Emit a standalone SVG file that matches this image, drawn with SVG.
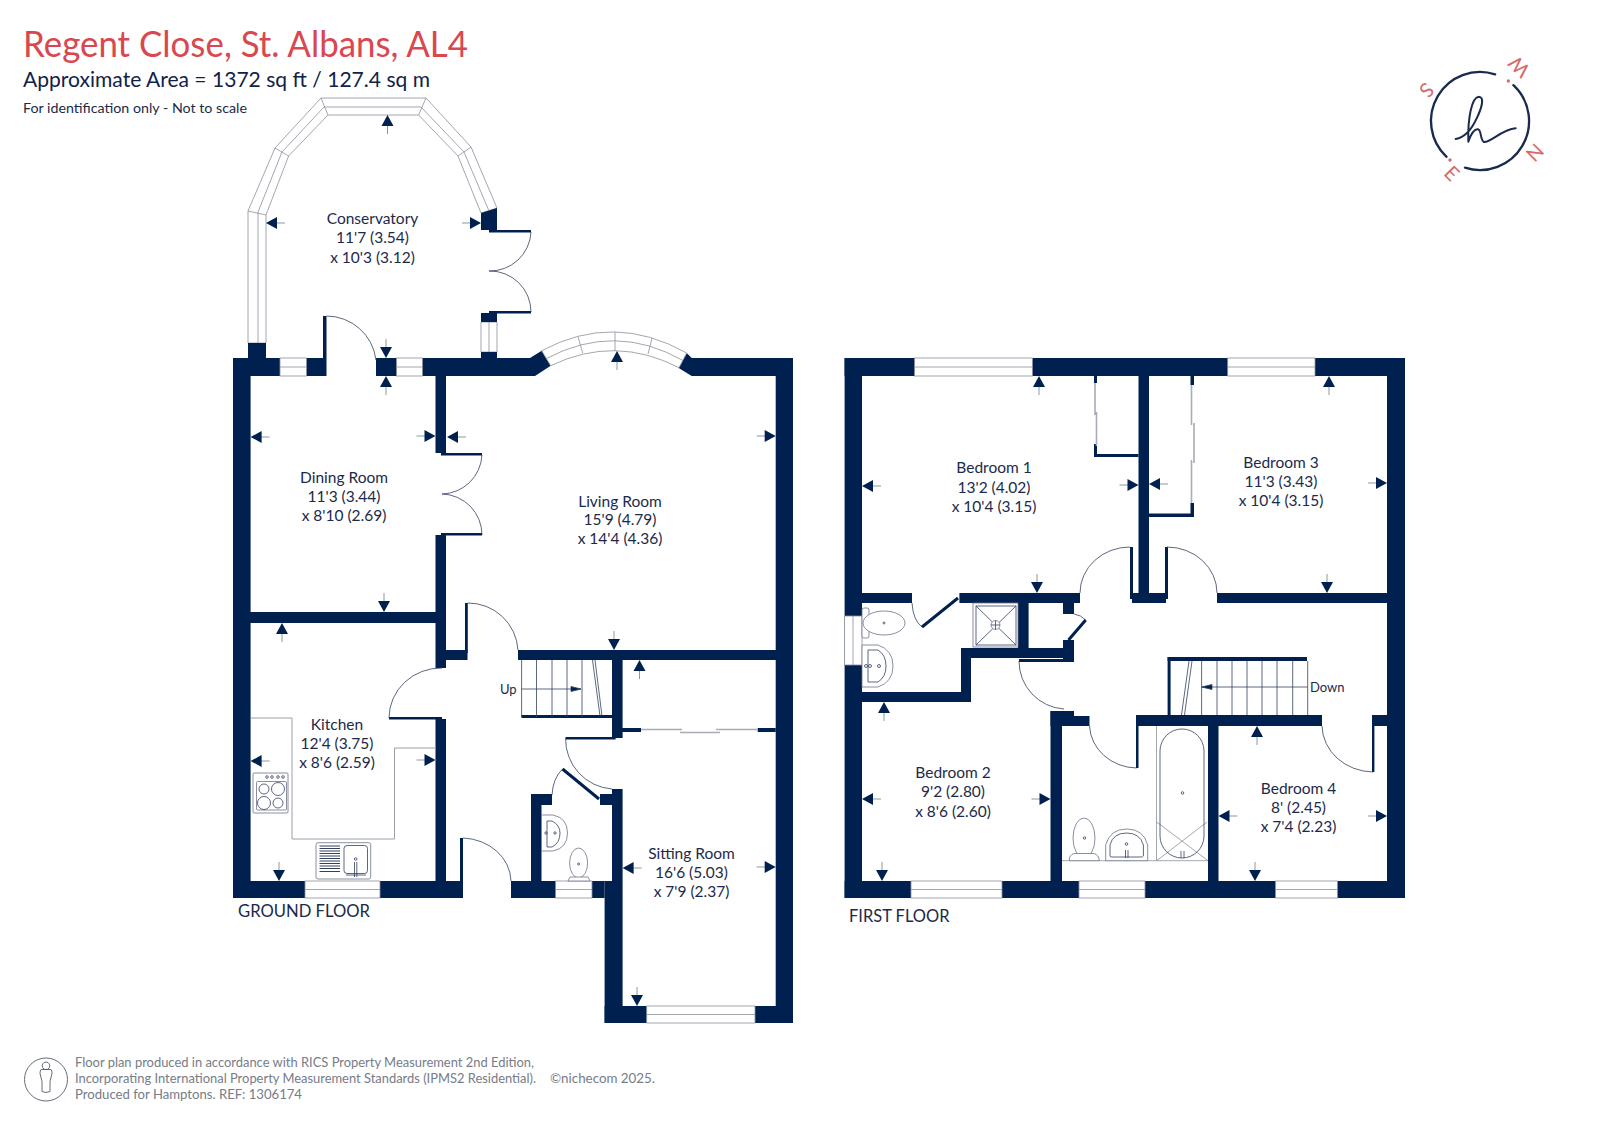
<svg xmlns="http://www.w3.org/2000/svg" width="1600" height="1131" viewBox="0 0 1600 1131">
<style>
text{font-family:"Lato","Open Sans","Liberation Sans",sans-serif;fill:#1c2a4a}
.r{font-size:15.5px;text-anchor:middle}
.f{font-size:17.5px}
.ft{font-size:12.6px;fill:#767c88}
.wall{fill:#00214f}
.win{fill:#fff;stroke:#8a909c;stroke-width:.8}
.thin{fill:none;stroke:#33415f;stroke-width:.8}
.gr{fill:none;stroke:#8a909c;stroke-width:.8}
.wk{fill:none;stroke:#9aa0aa;stroke-width:1}
.gl{fill:none;stroke:#a8adb5;stroke-width:1.6}
.th{fill:none;stroke:#00214f;stroke-width:3}
.fx{fill:#fff;stroke:#6c7488;stroke-width:.8}
.c{fill:none;stroke:#1a2a4f;stroke-width:7;stroke-linecap:round}
.cl{font-size:60px;fill:#d9686c;text-anchor:middle}
</style>
<defs>
<g id="a"><path d="M-19 0H-10" stroke="#8f96a3" stroke-width="1" fill="none"/><path d="M-11 -6L0 0L-11 6Z" fill="#00214f"/></g>
</defs>
<rect width="1600" height="1131" fill="#fff"/>

<g id="heading">
<text x="23" y="57" font-size="37" style="fill:#d9474f" textLength="445" lengthAdjust="spacingAndGlyphs">Regent Close, St. Albans, AL4</text>
<text x="23" y="87" font-size="21" style="fill:#10224a" textLength="407" lengthAdjust="spacingAndGlyphs">Approximate Area = 1372 sq ft / 127.4 sq m</text>
<text x="23" y="113" font-size="14" textLength="224" lengthAdjust="spacingAndGlyphs">For identification only - Not to scale</text>
</g>

<g id="compass" transform="translate(1400 40) scale(.3333)">
<path class="c" d="M285.400 103.200A147 147 0 0 0 139.700 350.500"/>
<path class="c" d="M340.300 135.500A147 147 0 0 1 195 383"/>
<path fill="none" stroke="#1a2a4f" stroke-width="6" stroke-linecap="round" stroke-linejoin="round" d="M167 297C195 292 215 268 230 235C245 205 255 170 236 170C215 172 203 235 205 305C212 285 222 265 235 268C245 272 240 300 252 306C270 310 305 268 347 265"/>
<circle cx="325" cy="123" r="5" fill="#d9686c"/><circle cx="150" cy="360" r="5" fill="#d9686c"/>
<text class="cl" transform="translate(80 150) rotate(135) translate(0 21)">S</text>
<text class="cl" transform="translate(358 80) rotate(225) translate(0 21)">W</text>
<text class="cl" transform="translate(405 338) rotate(-45) translate(0 21)">N</text>
<text class="cl" transform="translate(155 400) rotate(45) translate(0 21)">E</text>
</g>

<g id="ground-floor">
<g id="conservatory-glazing">
<path class="win" d="M248 343V211L275 148L321 98H426L471 147L497 208L481 213L458 156L418.600 115H328L288.600 156L266 215V343Z"/>
<path class="gr" d="M258 343V212L282 152L324 107H421L464 152L488.600 210M248 211L266 215M275 148L288.600 156M321 98L328 115M426 98L418.600 115M471 147L458 156"/>
<path class="win" d="M481 322H497V352H481Z"/><path class="gr" d="M489 322V352"/>
</g>
<g id="ground-walls" class="wall">
<rect x="233" y="358" width="17.600" height="540"/>
<rect x="233" y="358" width="91.500" height="18"/>
<rect x="248" y="343" width="18" height="16"/>
<rect x="323" y="316" width="3.500" height="60"/>
<rect x="376" y="358" width="156" height="18"/>
<path d="M530 358L541.700 350.700L550.700 365.700L535 376H525V358Z"/>
<path d="M678.300 367.700L686.700 353L691.700 358H793V376H691.700Z"/>
<rect x="775.700" y="358" width="17.300" height="665"/>
<rect x="481" y="352" width="16" height="8"/>
<path d="M481 213L497 208V230H531V232.500H489V230H481Z"/>
<path d="M481 313H489V311H531V313.500H497V322H481Z"/>
<rect x="435.500" y="376" width="10.500" height="77"/>
<rect x="441" y="453" width="41" height="2.500"/>
<rect x="441" y="533" width="41" height="2.500"/>
<rect x="435.500" y="535" width="10.500" height="133"/>
<rect x="446" y="650" width="21.500" height="10"/>
<rect x="465" y="603" width="2.800" height="50"/>
<rect x="518" y="650" width="258" height="10"/>
<rect x="250" y="612" width="186" height="11"/>
<rect x="521.500" y="715" width="91" height="3"/>
<rect x="612" y="650" width="10.600" height="88"/>
<rect x="565.600" y="737" width="50" height="2.500"/>
<rect x="622" y="728" width="19" height="4"/>
<rect x="757.700" y="728" width="18" height="4"/>
<rect x="389" y="717" width="53" height="2.500"/>
<rect x="435.500" y="719" width="10.500" height="163"/>
<rect x="233" y="881" width="227" height="17"/>
<rect x="460" y="838" width="3" height="60"/>
<rect x="511" y="881" width="93.600" height="17"/>
<rect x="604.600" y="881" width="18" height="142"/>
<rect x="612" y="789" width="10.600" height="92"/>
<rect x="531" y="794" width="10.500" height="87"/>
<rect x="531" y="794" width="21" height="11"/>
<rect x="600" y="794" width="12" height="11"/>
<rect x="604.600" y="1006" width="188.400" height="17"/>
</g>
<g id="ground-windows">
<rect class="win" x="280" y="358" width="26.500" height="18"/><path class="gr" d="M280 367H306.500"/>
<rect class="win" x="396.500" y="358" width="26" height="18"/><path class="gr" d="M396.500 367H422.500"/>
<rect class="win" x="305" y="881" width="75" height="17"/><path class="gr" d="M305 889.500H380"/>
<rect class="win" x="555.600" y="881" width="36.400" height="17"/><path class="gr" d="M555.600 889.500H592"/>
<rect class="win" x="646.700" y="1006" width="108.300" height="17"/><path class="gr" d="M646.700 1014.500H755"/>
<path class="win" d="M541.700 350.700Q614 312 686.700 353L679 367.700Q615 334.700 550.700 365.700Z"/>
<path class="gr" d="M546.500 358.500Q615 322 683 360.500M578 336.700L582.700 353M615 332V351M652 338L648 354"/>
</g>
<g id="ground-doors" class="thin">
<path d="M326.500 316A50 50 0 0 1 376 360"/>
<path d="M482 455A41 41 0 0 1 442 494A41 41 0 0 1 482 535"/>
<path d="M531 232A41 41 0 0 1 489 271A41 41 0 0 1 531 312"/>
<path d="M467.500 603A50 50 0 0 1 518 650"/>
<path d="M442 668A52 50 0 0 0 389 718"/>
<path d="M463 838A50 44 0 0 1 511 881"/>
<path d="M565.600 738A50 50 0 0 0 612 789"/>
<path d="M552 795Q553 778 562.500 769"/>
</g>
<path class="th" d="M562.500 769L599 799"/>
<g id="ground-stairs" class="thin">
<path d="M521.600 660V717M536.500 660V717M552 660V717M567 660V717M582 660V717M592.500 660L600 716M595 660L602 716M521.600 689H581"/>
<path d="M581 689L571 686.500V691.500Z" style="fill:#00214f"/>
</g>
<g id="kitchen-fittings">
<path class="wk" d="M251 718H292V839H394.500V748H436"/>
<rect class="fx" x="253" y="773" width="35" height="40" rx="1"/>
<rect class="fx" x="256.500" y="781.500" width="30" height="28.500" rx="1"/>
<circle class="thin" cx="264" cy="789" r="5"/><circle class="thin" cx="278" cy="789" r="6.500"/>
<circle class="thin" cx="264" cy="803" r="6.500"/><circle class="thin" cx="278" cy="803" r="5"/>
<circle class="thin" cx="267" cy="777" r="1.300"/><circle class="thin" cx="272" cy="777" r="1.300"/><circle class="thin" cx="278" cy="777" r="1.300"/><circle class="thin" cx="283" cy="777" r="1.300"/>
<rect class="fx" x="316" y="842.700" width="54.700" height="36.300" rx="2"/>
<path d="M319.500 846H340M319.500 848.500H340M319.500 851H340M319.500 853.500H340M319.500 856H340M319.500 858.500H340M319.500 861H340M319.500 863.500H340M319.500 866H340M319.500 868.500H340M319.500 871.500H340" fill="none" stroke="#33415f" stroke-width="1"/>
<rect class="thin" x="344" y="845.500" width="23.500" height="28" rx="3"/>
<path class="thin" d="M354.500 862V877M356.800 862V877M346 875H366"/>
<circle class="thin" cx="355.700" cy="859" r="1.300"/>
</g>
<g id="wc-fittings">
<path class="fx" d="M541.500 815H553Q567.500 818 567.500 833Q567.500 848 553 851H541.500Z"/>
<path class="thin" d="M547 821H552Q560 825 560 833Q560 843 552 847H547Z"/>
<ellipse class="fx" cx="578.600" cy="863" rx="9" ry="15"/>
<path class="fx" d="M568 881L570 877H588L590 881Z"/>
<circle class="thin" cx="578.600" cy="864" r="1"/><circle class="thin" cx="546" cy="833" r="1.200"/><circle class="thin" cx="555" cy="833" r="1.200"/>
</g>
<path id="wardrobe" class="gl" d="M641 729.500H682M680 732.500H720M716 729.500H757.700"/>
<g id="ground-labels">
<text class="r"><tspan x="372.500" y="224">Conservatory</tspan><tspan x="372.500" y="243">11'7 (3.54)</tspan><tspan x="372.500" y="263">x 10'3 (3.12)</tspan></text>
<text class="r"><tspan x="344" y="483">Dining Room</tspan><tspan x="344" y="502">11'3 (3.44)</tspan><tspan x="344" y="521">x 8'10 (2.69)</tspan></text>
<text class="r"><tspan x="620" y="507">Living Room</tspan><tspan x="620" y="525">15'9 (4.79)</tspan><tspan x="620" y="544">x 14'4 (4.36)</tspan></text>
<text class="r"><tspan x="337" y="730">Kitchen</tspan><tspan x="337" y="749">12'4 (3.75)</tspan><tspan x="337" y="768">x 8'6 (2.59)</tspan></text>
<text class="r"><tspan x="691.500" y="859">Sitting Room</tspan><tspan x="691.500" y="878">16'6 (5.03)</tspan><tspan x="691.500" y="897">x 7'9 (2.37)</tspan></text>
<text x="500" y="694" font-size="13">Up</text>
<text class="f" x="238" y="917" textLength="132" lengthAdjust="spacingAndGlyphs">GROUND FLOOR</text>
</g>
</g>

<g id="first-floor">
<g id="first-walls" class="wall">
<rect x="844.600" y="358" width="17.400" height="540"/>
<rect x="844.600" y="358" width="560.400" height="18"/>
<rect x="1387" y="358" width="18" height="540"/>
<rect x="844.600" y="881" width="560.400" height="17"/>
<rect x="1138.500" y="376" width="10.500" height="227"/>
<rect x="1132" y="593" width="34" height="10"/>
<rect x="1130" y="547" width="3" height="52"/>
<rect x="1165" y="547" width="3" height="52"/>
<rect x="1094" y="376" width="3" height="7"/>
<rect x="1094" y="444" width="3" height="13"/>
<rect x="1094" y="454" width="44.500" height="3"/>
<rect x="1190.500" y="376" width="3.500" height="9"/>
<rect x="1190.500" y="503" width="3.500" height="14"/>
<rect x="1149" y="513.500" width="45" height="3.500"/>
<rect x="862" y="593" width="50" height="10"/>
<rect x="959.400" y="593" width="120.600" height="10"/>
<rect x="1217" y="593" width="170" height="10"/>
<rect x="1018" y="603" width="10.600" height="45"/>
<rect x="1063" y="603" width="11" height="11"/>
<rect x="1063" y="640" width="11" height="22"/>
<rect x="961" y="648" width="113" height="10"/>
<rect x="961" y="648" width="10" height="54"/>
<rect x="862" y="692" width="109" height="10"/>
<rect x="1019" y="659" width="50" height="3"/>
<rect x="1050.500" y="711" width="11.500" height="170"/>
<rect x="1050.500" y="711" width="23.500" height="15"/>
<rect x="1062" y="716" width="27.500" height="10"/>
<rect x="1136" y="715" width="186" height="11"/>
<rect x="1136" y="715" width="2.500" height="53"/>
<rect x="1208" y="726" width="10.500" height="155"/>
<rect x="1167.600" y="657" width="139.400" height="4"/>
<rect x="1167.600" y="657" width="3" height="58"/>
<rect x="1372" y="715" width="15" height="11"/>
<rect x="1372" y="715" width="2.400" height="57"/>
</g>
<g id="first-windows">
<rect class="win" x="914.600" y="358" width="117.900" height="18"/><path class="gr" d="M914.600 367H1032.500"/>
<rect class="win" x="1227.700" y="358" width="87.300" height="18"/><path class="gr" d="M1227.700 367H1315"/>
<rect class="win" x="911" y="881" width="91" height="17"/><path class="gr" d="M911 889.500H1002"/>
<rect class="win" x="1079" y="881" width="66" height="17"/><path class="gr" d="M1079 889.500H1145"/>
<rect class="win" x="1275.500" y="881" width="62" height="17"/><path class="gr" d="M1275.500 889.500H1337.500"/>
<rect class="win" x="844.600" y="616" width="17.400" height="49"/><path class="gr" d="M853 616V665"/>
</g>
<path id="closets" class="gl" d="M1095 383V415M1096.500 412V446M1191.500 385V425M1194 423V463M1191.500 460V503"/>
<g id="first-doors" class="thin">
<path d="M1130 547A50 46 0 0 0 1080 593"/>
<path d="M1167 547A50 46 0 0 1 1217 593"/>
<path d="M912 603Q913 620 922 627"/>
<path d="M1074 614Q1081 615 1085.700 620"/>
<path d="M1019 661A48 48 0 0 0 1064 709"/>
<path d="M1089.500 726A48 44 0 0 0 1136.600 768"/>
<path d="M1322 726A52 47 0 0 0 1373 772"/>
</g>
<path class="th" d="M922 627L958 598M1068.500 640L1085.700 620"/>
<g id="first-stairs" class="thin">
<path d="M1201.600 661V715M1217 661V715M1232 661V715M1247 661V715M1262 661V715M1277 661V715M1292.700 661V715M1307.700 661V715M1192 661L1184.500 715M1189 661L1181.500 715M1201.600 687H1307.700"/>
<path d="M1201.600 687L1212 684.500V689.500Z" style="fill:#00214f"/>
</g>
<g id="ensuite-fittings">
<rect class="fx" x="973" y="603" width="45" height="44"/>
<rect class="thin" x="976" y="606" width="40" height="39"/>
<path class="thin" d="M976 606L1016 645M1016 606L976 645"/>
<circle class="fx" cx="995.500" cy="625" r="4.500"/><path class="thin" d="M991 625H1000M995.500 620.500V629.500"/>
<rect class="fx" x="862" y="608" width="7" height="30" rx="2"/>
<ellipse class="fx" cx="884" cy="623" rx="21" ry="12"/><circle class="thin" cx="884" cy="623" r="1"/>
<path class="fx" d="M862 645H878Q893 650 893 666Q893 682 878 687H862Z"/>
<path class="thin" d="M868 650H878Q886 655 886 666Q886 677 878 682H868Z"/>
<circle class="thin" cx="866" cy="666" r="1.500"/><circle class="thin" cx="870" cy="666" r="1.500"/><circle class="thin" cx="879" cy="666" r="1.500"/>
</g>
<g id="bathroom-fittings">
<path class="gr" d="M1156.500 726V860.700M1062 860.700H1208M1156.700 822L1208 860.700M1207 822L1156.700 860.700"/>
<rect class="thin" x="1160" y="729" width="44" height="129" rx="22"/>
<circle class="thin" cx="1182.500" cy="793" r="1.300"/>
<path class="thin" d="M1181 851V858M1184 851V858"/>
<ellipse class="fx" cx="1084" cy="838" rx="11" ry="20"/><circle class="thin" cx="1084.500" cy="838" r="1.200"/>
<path class="fx" d="M1069.300 860.700Q1069 855 1074 853.500H1094Q1099 855 1099.300 860.700Z"/>
<path class="fx" d="M1105.700 860.700V845Q1110 829 1126.700 829Q1143.500 829 1147.700 845V860.700Z"/>
<path class="thin" d="M1110 856V845Q1113 833 1126.700 833Q1140 833 1143.400 845V856Q1143 857 1141 857H1112Q1110 857 1110 856Z"/>
<path class="thin" d="M1125.500 850V858M1128 850V858"/><circle class="thin" cx="1126.500" cy="844" r="1.300"/>
</g>
<g id="first-labels">
<text class="r"><tspan x="994" y="473">Bedroom 1</tspan><tspan x="994" y="493">13'2 (4.02)</tspan><tspan x="994" y="512">x 10'4 (3.15)</tspan></text>
<text class="r"><tspan x="1281" y="468">Bedroom 3</tspan><tspan x="1281" y="487">11'3 (3.43)</tspan><tspan x="1281" y="506">x 10'4 (3.15)</tspan></text>
<text class="r"><tspan x="953" y="778">Bedroom 2</tspan><tspan x="953" y="797">9'2 (2.80)</tspan><tspan x="953" y="817">x 8'6 (2.60)</tspan></text>
<text class="r"><tspan x="1298.500" y="794">Bedroom 4</tspan><tspan x="1298.500" y="813">8' (2.45)</tspan><tspan x="1298.500" y="832">x 7'4 (2.23)</tspan></text>
<text x="1310" y="692" font-size="13">Down</text>
<text class="f" x="849" y="922" textLength="100.500" lengthAdjust="spacingAndGlyphs">FIRST FLOOR</text>
</g>
</g>

<g id="measure-arrows">
<use href="#a" transform="translate(387.500 115) rotate(-90)"/>
<use href="#a" transform="translate(266 223) rotate(180)"/>
<use href="#a" transform="translate(481 223)"/>
<use href="#a" transform="translate(386 358) rotate(90)"/>
<use href="#a" transform="translate(386 376) rotate(-90)"/>
<use href="#a" transform="translate(250.600 437) rotate(180)"/>
<use href="#a" transform="translate(435.500 436)"/>
<use href="#a" transform="translate(384 612) rotate(90)"/>
<use href="#a" transform="translate(282 623) rotate(-90)"/>
<use href="#a" transform="translate(250.600 761) rotate(180)"/>
<use href="#a" transform="translate(435.500 760)"/>
<use href="#a" transform="translate(279 881) rotate(90)"/>
<use href="#a" transform="translate(447 437) rotate(180)"/>
<use href="#a" transform="translate(775.700 436)"/>
<use href="#a" transform="translate(617 351) rotate(-90)"/>
<use href="#a" transform="translate(614 650) rotate(90)"/>
<use href="#a" transform="translate(639.500 660) rotate(-90)"/>
<use href="#a" transform="translate(622.600 868) rotate(180)"/>
<use href="#a" transform="translate(775.700 867)"/>
<use href="#a" transform="translate(637 1006) rotate(90)"/>
<use href="#a" transform="translate(862 486) rotate(180)"/>
<use href="#a" transform="translate(1138.500 485)"/>
<use href="#a" transform="translate(1039 376) rotate(-90)"/>
<use href="#a" transform="translate(1037 593) rotate(90)"/>
<use href="#a" transform="translate(1149 484) rotate(180)"/>
<use href="#a" transform="translate(1387 483)"/>
<use href="#a" transform="translate(1329 376) rotate(-90)"/>
<use href="#a" transform="translate(1327 593) rotate(90)"/>
<use href="#a" transform="translate(862 799) rotate(180)"/>
<use href="#a" transform="translate(1050.500 799)"/>
<use href="#a" transform="translate(884 702) rotate(-90)"/>
<use href="#a" transform="translate(882 881) rotate(90)"/>
<use href="#a" transform="translate(1218.500 816) rotate(180)"/>
<use href="#a" transform="translate(1387 816)"/>
<use href="#a" transform="translate(1257 726) rotate(-90)"/>
<use href="#a" transform="translate(1255 881) rotate(90)"/>
</g>

<g id="footer">
<circle cx="46" cy="1079.500" r="21.500" fill="none" stroke="#555c6b" stroke-width=".9"/>
<path fill="none" stroke="#555c6b" stroke-width=".9" d="M46 1062a3.800 3.800 0 1 0 .01 0M41 1069.500H51Q52 1070.500 52 1073.500L50 1081.500V1091.500Q46 1093.500 42 1091.500V1081.500L40 1073.500Q40 1070.500 41 1069.500Z"/>
<text class="ft" x="75" y="1067" textLength="459" lengthAdjust="spacingAndGlyphs">Floor plan produced in accordance with RICS Property Measurement 2nd Edition,</text>
<text class="ft" x="75" y="1083" textLength="461" lengthAdjust="spacingAndGlyphs">Incorporating International Property Measurement Standards (IPMS2 Residential).</text>
<text class="ft" x="75" y="1099" textLength="227" lengthAdjust="spacingAndGlyphs">Produced for Hamptons.   REF:  1306174</text>
<text class="ft" x="550" y="1083" textLength="105" lengthAdjust="spacingAndGlyphs">©nichecom 2025.</text>
</g>
</svg>
